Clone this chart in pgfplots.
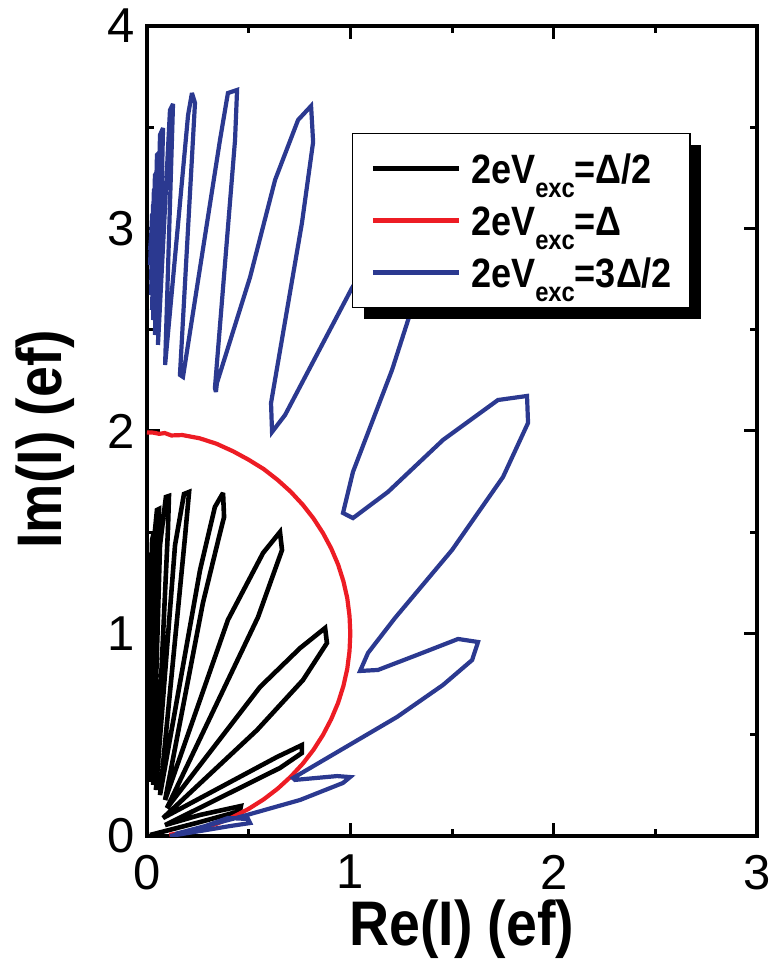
\documentclass[border=0pt]{standalone}
\usepackage{fontspec}
\setmainfont{Liberation Sans}
\newfontfamily\labfont[FakeStretch=0.88]{Liberation Sans}
\usepackage{pgfplots}
\pgfplotsset{compat=1.18}
\usetikzlibrary{shadows}
\definecolor{myblue}{RGB}{43,57,144}
\definecolor{myred}{RGB}{237,28,36}
\newcommand\exc{\raisebox{-14pt}{\fontsize{27}{27}\selectfont exc}}
\begin{document}
\begin{tikzpicture}
\begin{axis}[
 at={(0pt,0pt)}, anchor=south west,
 width=610pt, height=810pt, scale only axis,
 xmin=0, xmax=3, ymin=0, ymax=4,
 xtick={0,1,2,3}, ytick={0,1,2,3,4},
 minor xtick={0.5,1.5,2.5}, minor ytick={0.5,1.5,2.5,3.5},
 tick align=inside,
 major tick length=13pt, minor tick length=7pt,
 every tick/.style={black, line width=3pt},
 axis line style={line width=3.2pt},
 /pgf/number format/assume math mode=true,
 tick label style={font=\fontsize{49}{49}\selectfont, inner sep=0pt},
 xticklabel style={yshift=-19pt},
 yticklabel style={xshift=-12pt},
 xlabel={Re(I) (ef)}, ylabel={Im(I) (ef)},
 label style={font=\labfont\bfseries\fontsize{63}{63}\selectfont},
 xlabel style={at={(axis description cs:0.516,0)}, anchor=base, yshift=-109pt},
 ylabel style={at={([xshift=-85pt]axis description cs:0,0.49)}, anchor=base},
 legend style={at={(axis description cs:0.336,0.868)}, anchor=north west,
   draw=black, fill=white, line width=1.2pt,
   drop shadow={shadow xshift=11pt, shadow yshift=-11pt, fill=black, opacity=1},
   inner xsep=18pt, inner ysep=10pt, row sep=2pt, column sep=10pt,
   font=\labfont\bfseries\fontsize{41}{41}\selectfont,
   nodes={inner sep=0pt, anchor=west, text height=40pt, text depth=10pt}},
 legend image code/.code={\begin{scope}[#1]
   \pgfsetlinewidth{4.5pt}\pgfsetbuttcap
   \pgfpathmoveto{\pgfpoint{0pt}{0pt}}\pgfpathlineto{\pgfpoint{86pt}{0pt}}
   \pgfusepath{stroke}\end{scope}},
]
\addplot[black, line width=4.6pt, line join=miter, miter limit=3] coordinates {
(0.015,0.005) (0.261,0.069) (0.457,0.123) (0.462,0.148) (0.261,0.104) (0.089,0.054)
(0.654,0.336) (0.762,0.410) (0.762,0.449) (0.639,0.390) (0.079,0.089)
(0.541,0.523) (0.767,0.770) (0.885,0.953) (0.876,1.027) (0.753,0.928) (0.556,0.736) (0.098,0.138)
(0.546,1.081) (0.664,1.412) (0.654,1.501) (0.571,1.398) (0.398,1.067) (0.089,0.178)
(0.275,1.151) (0.359,1.496) (0.379,1.575) (0.374,1.694) (0.334,1.625) (0.261,1.314) (0.064,0.202)
(0.187,1.477) (0.207,1.699) (0.182,1.689) (0.138,1.437) (0.044,0.227)
(0.103,1.511) (0.108,1.679) (0.093,1.674) (0.064,1.437) (0.030,0.252)
(0.054,1.486) (0.059,1.615) (0.049,1.610) (0.025,1.363) (0.015,0.267)
(0.034,1.501) (0.025,1.462) (0.010,0.301)
(0.030,1.422) (0.020,1.388) (0.010,0.351)
(0.025,1.338) (0.015,1.304) (0.005,0.400)
(0.025,1.264) (0.015,1.215) (0.005,0.474)
(0.020,1.165) (0.010,1.116) (0.005,0.573)
(0.015,1.042) (0.010,0.993) (0.005,0.672)
(0.010,0.919) (0.005,0.820)
};
\addlegendentry{2eV\exc=Δ/2}
\addplot[myred, line width=4.2pt] coordinates {
(0.000,1.993) (0.030,1.992) (0.060,1.986) (0.087,1.990) (0.120,1.978) (0.174,1.980)
(0.259,1.964) (0.342,1.937) (0.423,1.900) (0.500,1.858) (0.574,1.812) (0.643,1.758)
(0.707,1.700) (0.766,1.636) (0.819,1.568) (0.866,1.495) (0.906,1.420) (0.940,1.340)
(0.966,1.258) (0.985,1.174) (0.996,1.087) (1.000,1.000) (0.996,0.913) (0.985,0.826)
(0.966,0.741) (0.940,0.658) (0.906,0.577) (0.866,0.500) (0.819,0.426) (0.766,0.357)
(0.707,0.293) (0.643,0.234) (0.574,0.181) (0.500,0.134) (0.423,0.094) (0.342,0.060)
(0.259,0.034) (0.174,0.015) (0.110,0.006)
};
\addlegendentry{2eV\exc=Δ}
\addplot[myblue, line width=4.2pt, line join=miter, miter limit=3] coordinates {
(0.113,0.000) (0.408,0.049) (0.507,0.064) (0.497,0.084) (0.398,0.089) (0.261,0.040) (0.138,0.010)
(0.457,0.094) (0.753,0.178) (0.964,0.262) (0.999,0.291) (0.935,0.296) (0.728,0.277) (0.718,0.286)
(1.230,0.588) (1.456,0.746) (1.599,0.869) (1.628,0.958) (1.530,0.973) (1.328,0.894) (1.136,0.820) (1.048,0.815)
(1.087,0.904) (1.220,1.077) (1.500,1.412) (1.751,1.773) (1.874,2.040) (1.869,2.173) (1.726,2.153)
(1.456,1.956) (1.185,1.699) (1.013,1.570) (0.964,1.595)
(1.013,1.798) (1.205,2.301) (1.284,2.548) (1.367,2.795) (1.343,2.943) (1.220,2.968) (1.048,2.770)
(1.008,2.706) (0.679,2.079) (0.615,1.995)
(0.610,2.138) (0.762,3.027) (0.817,3.427) (0.807,3.605) (0.743,3.536) (0.630,3.240) (0.507,2.760)
(0.344,2.237) (0.339,2.193)
(0.334,2.212) (0.433,3.437) (0.443,3.684) (0.398,3.669) (0.359,3.437) (0.177,2.267)
(0.162,2.277) (0.236,3.620) (0.221,3.669) (0.202,3.560) (0.089,2.326)
(0.128,3.615) (0.113,3.585) (0.054,2.425)
(0.079,3.496) (0.064,3.462) (0.039,2.474)
(0.064,3.378) (0.049,3.363) (0.030,2.548)
(0.054,3.289) (0.039,3.264) (0.025,2.598)
(0.049,3.215) (0.034,3.190) (0.020,2.672)
(0.044,3.141) (0.030,3.116) (0.020,2.746)
(0.039,3.091) (0.025,3.067) (0.015,2.820)
(0.034,3.042) (0.025,3.017) (0.015,2.894)
(0.025,2.983) (0.020,2.943)
};
\addlegendentry{2eV\exc=3Δ/2}
\end{axis}
\pgfresetboundingbox
\path (-147pt,-128pt) rectangle (623pt,836pt);
\end{tikzpicture}
\end{document}
